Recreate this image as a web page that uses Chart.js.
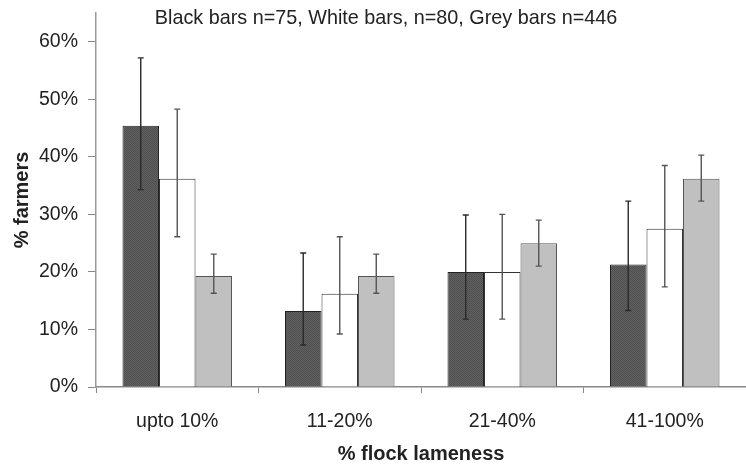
<!DOCTYPE html>
<html>
<head>
<meta charset="utf-8">
<script src="https://cdn.jsdelivr.net/npm/chart.js@4/dist/chart.umd.min.js"></script>
<style>
  html, body { margin: 0; padding: 0; background: #fff; }
  #wrap { width: 746px; height: 470px; position: relative; }
</style>
</head>
<body>
<div id="wrap"><canvas id="chart"></canvas></div>
<script>
// categories (x axis)
const categories = ["upto 10%", "11-20%", "21-40%", "41-100%"]

// bar heights, % farmers
const blackValues = [45.4, 13.2, 20.0, 21.3]
const whiteValues = [36.2, 16.2, 20.0, 27.5]
const greyValues = [19.3, 19.3, 25.0, 36.2]

// error bar ends
const blackLow = [34.3, 7.3, 11.8, 13.3]
const blackHigh = [57.2, 23.3, 29.9, 32.3]
const whiteLow = [26.1, 9.2, 11.8, 17.4]
const whiteHigh = [48.3, 26.1, 30.0, 38.5]
const greyLow = [16.3, 16.3, 21.0, 32.3]
const greyHigh = [23.1, 23.1, 29.0, 40.3]

// y axis tick labels
const yTicks = [0, 10, 20, 30, 40, 50, 60]

const titleText = "Black bars n=75, White bars, n=80, Grey bars n=446"

const FONT = "'Liberation Sans', Arial, sans-serif"
const TEXT = "#222"

// dotted dark fill like the original's hatched black bars
function darkPattern() {
  const c = document.createElement("canvas")
  c.width = 2
  c.height = 2
  const g = c.getContext("2d")
  g.fillStyle = "#606060"
  g.fillRect(0, 0, 2, 2)
  g.fillStyle = "#505050"
  g.fillRect(0, 0, 1, 1)
  g.fillRect(1, 1, 1, 1)
  return g.createPattern(c, "repeat")
}

const errorBars = {
  id: "errorBars",
  afterDatasetsDraw(chart) {
    const ctx = chart.ctx
    const y = chart.scales.y
    chart.data.datasets.forEach((ds, i) => {
      const meta = chart.getDatasetMeta(i)
      meta.data.forEach((bar, j) => {
        const top = y.getPixelForValue(ds.errHigh[j])
        const bottom = y.getPixelForValue(ds.errLow[j])
        ctx.save()
        ctx.strokeStyle = ds.errColor
        ctx.lineWidth = 1.4
        ctx.beginPath()
        ctx.moveTo(bar.x, top)
        ctx.lineTo(bar.x, bottom)
        ctx.moveTo(bar.x - 3, top)
        ctx.lineTo(bar.x + 3, top)
        ctx.moveTo(bar.x - 3, bottom)
        ctx.lineTo(bar.x + 3, bottom)
        ctx.stroke()
        ctx.restore()
      })
    })
  }
}

// the caption sits inside the plot, so draw it rather than reserve space
const caption = {
  id: "caption",
  afterDraw(chart) {
    const ctx = chart.ctx
    ctx.save()
    ctx.font = "19.8px " + FONT
    ctx.fillStyle = TEXT
    ctx.textAlign = "center"
    ctx.textBaseline = "middle"
    ctx.fillText(titleText, chart.width / 2 + 13, 19)
    ctx.restore()
  }
}

const ctx = document.getElementById("chart").getContext("2d")
new Chart(ctx, {
  type: "bar",
  data: {
    labels: categories,
    datasets: [
      {
        label: "Black",
        data: blackValues,
        errLow: blackLow,
        errHigh: blackHigh,
        errColor: "#2a2a2a",
        backgroundColor: darkPattern(),
        borderColor: "#222",
        borderWidth: 1
      },
      {
        label: "White",
        data: whiteValues,
        errLow: whiteLow,
        errHigh: whiteHigh,
        errColor: "#555",
        backgroundColor: "#ffffff",
        borderColor: "#333",
        borderWidth: 1
      },
      {
        label: "Grey",
        data: greyValues,
        errLow: greyLow,
        errHigh: greyHigh,
        errColor: "#555",
        backgroundColor: "#c0c0c0",
        borderColor: "#555",
        borderWidth: 1
      }
    ]
  },
  options: {
    responsive: true,
    maintainAspectRatio: false,
    animation: false,
    categoryPercentage: 0.674,
    barPercentage: 1,
    layout: { padding: { left: 6, top: 13, right: 0, bottom: 2 } },
    plugins: {
      legend: { display: false },
      tooltip: { enabled: false }
    },
    scales: {
      x: {
        afterFit(scale) {
          scale.height = 81
          scale.paddingLeft = 0
          scale.paddingRight = 0
        },
        grid: {
          offset: true,
          drawOnChartArea: false,
          drawTicks: true,
          tickLength: 6,
          color: "#888"
        },
        border: { color: "#888", width: 1.5 },
        ticks: {
          color: TEXT,
          padding: 17,
          font: { family: FONT, size: 19.5 }
        },
        title: {
          display: true,
          text: "% flock lameness",
          color: TEXT,
          padding: { top: 4, bottom: 2 },
          font: { family: FONT, size: 20, weight: "bold" }
        }
      },
      y: {
        min: 0,
        max: 65,
        afterBuildTicks(scale) {
          scale.ticks = yTicks.map(v => ({ value: v }))
        },
        afterFit(scale) {
          scale.width = 90
          scale.paddingTop = 0
          scale.paddingBottom = 0
        },
        grid: {
          drawOnChartArea: false,
          drawTicks: true,
          tickLength: 8,
          color: "#888"
        },
        border: { color: "#999", width: 1.5 },
        ticks: {
          color: TEXT,
          padding: 10,
          font: { family: FONT, size: 19.5 },
          callback: v => v + "%"
        },
        title: {
          display: true,
          text: "% farmers",
          color: TEXT,
          padding: { top: 4, bottom: 6 },
          font: { family: FONT, size: 20, weight: "bold" }
        }
      }
    }
  },
  plugins: [errorBars, caption]
})
</script>
</body>
</html>
